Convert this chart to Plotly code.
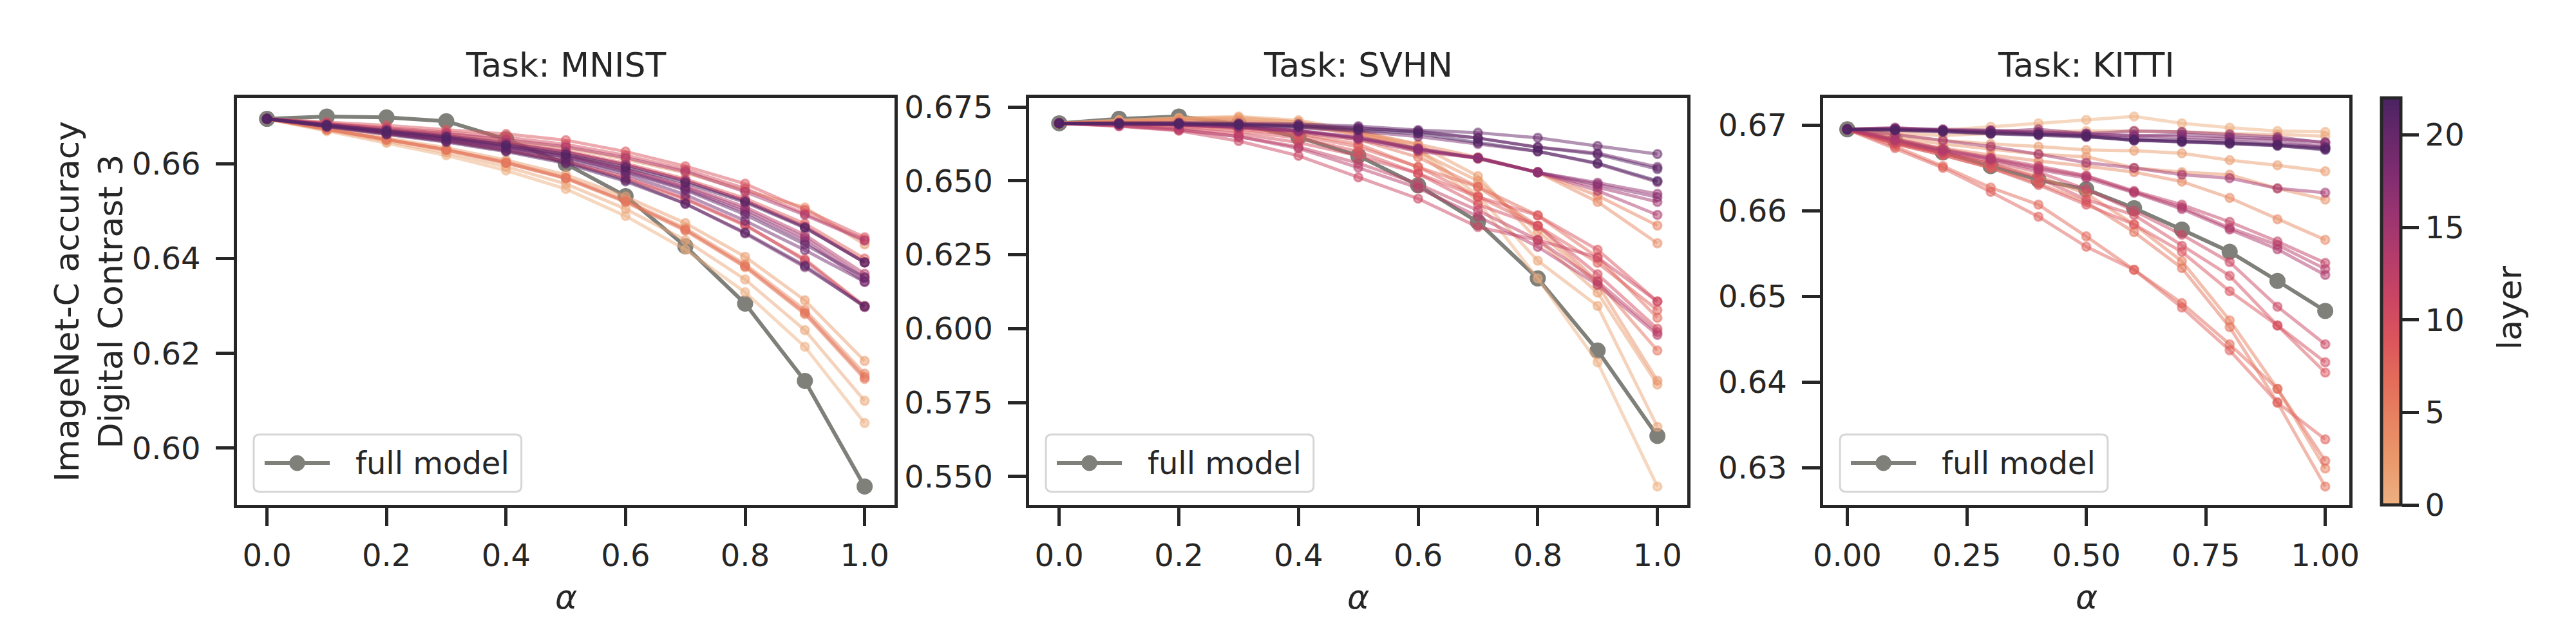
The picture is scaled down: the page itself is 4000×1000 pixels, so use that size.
import plotly.graph_objs as go
from plotly.colors import sample_colorscale, unlabel_rgb

alphas = [0.0, 0.1, 0.2, 0.3, 0.4, 0.5, 0.6, 0.7, 0.8, 0.9, 1.0]
layers = list(range(23))
tasks = ["MNIST", "SVHN", "KITTI"]

# accuracy of the full model per alpha
mnist_full = [0.6695, 0.6700, 0.6698, 0.6690, 0.6652, 0.6600, 0.6532, 0.6426, 0.6305, 0.6142, 0.5919]
svhn_full = [0.6695, 0.6710, 0.6718, 0.6693, 0.6648, 0.6585, 0.6485, 0.6361, 0.6170, 0.5926, 0.5637]
kitti_full = [0.6695, 0.6682, 0.6668, 0.6652, 0.6636, 0.6625, 0.6603, 0.6578, 0.6552, 0.6518, 0.6483]

# one row per layer (0..22), one value per alpha
mnist_layer_acc = [
    [0.6695, 0.6669, 0.6644, 0.6618, 0.6586, 0.6547, 0.6490, 0.6419, 0.6329, 0.6214, 0.6053],
    [0.6695, 0.6671, 0.6647, 0.6624, 0.6594, 0.6558, 0.6505, 0.6439, 0.6356, 0.6249, 0.6100],
    [0.6695, 0.6675, 0.6654, 0.6634, 0.6608, 0.6577, 0.6531, 0.6475, 0.6404, 0.6312, 0.6184],
    [0.6695, 0.6684, 0.6674, 0.6663, 0.6650, 0.6634, 0.6610, 0.6581, 0.6544, 0.6508, 0.6430],
    [0.6695, 0.6673, 0.6652, 0.6630, 0.6604, 0.6571, 0.6523, 0.6464, 0.6388, 0.6292, 0.6157],
    [0.6695, 0.6673, 0.6651, 0.6629, 0.6602, 0.6569, 0.6519, 0.6459, 0.6382, 0.6283, 0.6146],
    [0.6695, 0.6673, 0.6651, 0.6630, 0.6602, 0.6570, 0.6521, 0.6461, 0.6384, 0.6286, 0.6150],
    [0.6695, 0.6679, 0.6663, 0.6648, 0.6628, 0.6604, 0.6569, 0.6525, 0.6470, 0.6399, 0.6300],
    [0.6695, 0.6683, 0.6671, 0.6660, 0.6645, 0.6627, 0.6601, 0.6568, 0.6527, 0.6474, 0.6400],
    [0.6695, 0.6688, 0.6681, 0.6672, 0.6663, 0.6650, 0.6626, 0.6595, 0.6558, 0.6503, 0.6445],
    [0.6695, 0.6686, 0.6677, 0.6667, 0.6656, 0.6641, 0.6618, 0.6588, 0.6548, 0.6495, 0.6440],
    [0.6695, 0.6680, 0.6665, 0.6650, 0.6630, 0.6606, 0.6572, 0.6527, 0.6472, 0.6396, 0.6298],
    [0.6695, 0.6682, 0.6670, 0.6658, 0.6643, 0.6625, 0.6598, 0.6565, 0.6522, 0.6468, 0.6392],
    [0.6695, 0.6682, 0.6669, 0.6656, 0.6639, 0.6620, 0.6590, 0.6554, 0.6509, 0.6450, 0.6368],
    [0.6695, 0.6685, 0.6674, 0.6664, 0.6651, 0.6636, 0.6613, 0.6584, 0.6541, 0.6492, 0.6438],
    [0.6695, 0.6682, 0.6668, 0.6655, 0.6638, 0.6618, 0.6588, 0.6551, 0.6504, 0.6444, 0.6360],
    [0.6695, 0.6683, 0.6671, 0.6659, 0.6644, 0.6625, 0.6598, 0.6564, 0.6522, 0.6466, 0.6392],
    [0.6695, 0.6681, 0.6668, 0.6654, 0.6636, 0.6616, 0.6585, 0.6547, 0.6499, 0.6437, 0.6351],
    [0.6695, 0.6679, 0.6663, 0.6648, 0.6628, 0.6604, 0.6566, 0.6516, 0.6453, 0.6382, 0.6300],
    [0.6695, 0.6680, 0.6666, 0.6651, 0.6633, 0.6610, 0.6578, 0.6535, 0.6480, 0.6418, 0.6351],
    [0.6695, 0.6681, 0.6667, 0.6653, 0.6635, 0.6614, 0.6583, 0.6545, 0.6493, 0.6430, 0.6360],
    [0.6695, 0.6678, 0.6662, 0.6646, 0.6626, 0.6601, 0.6563, 0.6516, 0.6455, 0.6385, 0.6298],
    [0.6695, 0.6682, 0.6670, 0.6657, 0.6640, 0.6620, 0.6593, 0.6560, 0.6519, 0.6465, 0.6392],
]

svhn_layer_acc = [
    [0.6695, 0.6705, 0.6712, 0.6715, 0.6700, 0.6660, 0.6600, 0.6430, 0.6170, 0.5886, 0.5466],
    [0.6695, 0.6705, 0.6713, 0.6718, 0.6705, 0.6670, 0.6610, 0.6450, 0.6230, 0.6077, 0.5668],
    [0.6695, 0.6703, 0.6710, 0.6712, 0.6700, 0.6665, 0.6623, 0.6516, 0.6300, 0.6122, 0.5811],
    [0.6695, 0.6702, 0.6708, 0.6705, 0.6692, 0.6655, 0.6600, 0.6500, 0.6330, 0.6150, 0.5824],
    [0.6695, 0.6700, 0.6705, 0.6702, 0.6690, 0.6668, 0.6623, 0.6580, 0.6529, 0.6429, 0.6289],
    [0.6695, 0.6698, 0.6700, 0.6695, 0.6685, 0.6660, 0.6610, 0.6575, 0.6529, 0.6450, 0.6349],
    [0.6695, 0.6697, 0.6695, 0.6685, 0.6670, 0.6640, 0.6580, 0.6480, 0.6348, 0.6160, 0.5926],
    [0.6695, 0.6696, 0.6693, 0.6680, 0.6660, 0.6625, 0.6547, 0.6480, 0.6383, 0.6241, 0.6037],
    [0.6695, 0.6694, 0.6690, 0.6675, 0.6655, 0.6615, 0.6547, 0.6446, 0.6348, 0.6223, 0.6063],
    [0.6695, 0.6692, 0.6685, 0.6668, 0.6645, 0.6600, 0.6525, 0.6446, 0.6383, 0.6267, 0.6092],
    [0.6695, 0.6690, 0.6680, 0.6660, 0.6630, 0.6585, 0.6525, 0.6420, 0.6348, 0.6184, 0.6000],
    [0.6695, 0.6685, 0.6670, 0.6635, 0.6585, 0.6512, 0.6440, 0.6344, 0.6300, 0.6241, 0.6092],
    [0.6695, 0.6688, 0.6675, 0.6650, 0.6615, 0.6560, 0.6490, 0.6400, 0.6300, 0.6160, 0.5988],
    [0.6695, 0.6686, 0.6672, 0.6650, 0.6610, 0.6545, 0.6476, 0.6380, 0.6277, 0.6148, 0.5979],
    [0.6695, 0.6692, 0.6690, 0.6680, 0.6665, 0.6640, 0.6600, 0.6578, 0.6529, 0.6467, 0.6385],
    [0.6695, 0.6693, 0.6690, 0.6682, 0.6668, 0.6645, 0.6605, 0.6578, 0.6529, 0.6480, 0.6429],
    [0.6695, 0.6693, 0.6691, 0.6684, 0.6670, 0.6648, 0.6610, 0.6578, 0.6529, 0.6494, 0.6456],
    [0.6695, 0.6692, 0.6690, 0.6683, 0.6670, 0.6645, 0.6608, 0.6576, 0.6529, 0.6488, 0.6445],
    [0.6695, 0.6694, 0.6693, 0.6688, 0.6680, 0.6668, 0.6650, 0.6625, 0.6600, 0.6558, 0.6496],
    [0.6695, 0.6695, 0.6694, 0.6692, 0.6688, 0.6680, 0.6665, 0.6645, 0.6614, 0.6594, 0.6547],
    [0.6695, 0.6696, 0.6697, 0.6695, 0.6692, 0.6685, 0.6672, 0.6663, 0.6646, 0.6618, 0.6591],
    [0.6695, 0.6694, 0.6694, 0.6691, 0.6686, 0.6678, 0.6668, 0.6645, 0.6614, 0.6590, 0.6540],
    [0.6695, 0.6694, 0.6693, 0.6689, 0.6683, 0.6672, 0.6660, 0.6630, 0.6600, 0.6560, 0.6500],
]

kitti_layer_acc = [
    [0.6695, 0.6692, 0.6694, 0.6698, 0.6702, 0.6706, 0.6710, 0.6702, 0.6697, 0.6693, 0.6692],
    [0.6695, 0.6690, 0.6688, 0.6690, 0.6692, 0.6693, 0.6693, 0.6692, 0.6690, 0.6689, 0.6687],
    [0.6695, 0.6688, 0.6682, 0.6678, 0.6675, 0.6671, 0.6670, 0.6667, 0.6659, 0.6653, 0.6646],
    [0.6695, 0.6685, 0.6678, 0.6672, 0.6666, 0.6663, 0.6650, 0.6645, 0.6642, 0.6626, 0.6613],
    [0.6695, 0.6683, 0.6673, 0.6665, 0.6658, 0.6652, 0.6645, 0.6634, 0.6615, 0.6590, 0.6566],
    [0.6695, 0.6680, 0.6668, 0.6655, 0.6640, 0.6620, 0.6584, 0.6541, 0.6472, 0.6392, 0.6299],
    [0.6695, 0.6678, 0.6665, 0.6650, 0.6632, 0.6610, 0.6575, 0.6533, 0.6464, 0.6376, 0.6278],
    [0.6695, 0.6675, 0.6652, 0.6627, 0.6607, 0.6570, 0.6531, 0.6492, 0.6444, 0.6392, 0.6308],
    [0.6695, 0.6673, 0.6650, 0.6622, 0.6593, 0.6558, 0.6531, 0.6487, 0.6437, 0.6376, 0.6333],
    [0.6695, 0.6678, 0.6665, 0.6650, 0.6630, 0.6607, 0.6584, 0.6552, 0.6506, 0.6466, 0.6411],
    [0.6695, 0.6679, 0.6667, 0.6655, 0.6638, 0.6613, 0.6595, 0.6559, 0.6524, 0.6466, 0.6423],
    [0.6695, 0.6680, 0.6668, 0.6658, 0.6645, 0.6625, 0.6600, 0.6572, 0.6540, 0.6488, 0.6444],
    [0.6695, 0.6684, 0.6672, 0.6662, 0.6652, 0.6641, 0.6623, 0.6607, 0.6587, 0.6564, 0.6539],
    [0.6695, 0.6683, 0.6671, 0.6661, 0.6650, 0.6640, 0.6622, 0.6604, 0.6580, 0.6560, 0.6532],
    [0.6695, 0.6682, 0.6670, 0.6660, 0.6648, 0.6638, 0.6621, 0.6602, 0.6578, 0.6555, 0.6525],
    [0.6695, 0.6689, 0.6682, 0.6675, 0.6666, 0.6656, 0.6650, 0.6642, 0.6638, 0.6626, 0.6621],
    [0.6695, 0.6697, 0.6694, 0.6692, 0.6695, 0.6690, 0.6693, 0.6692, 0.6689, 0.6686, 0.6679],
    [0.6695, 0.6696, 0.6694, 0.6693, 0.6691, 0.6689, 0.6688, 0.6686, 0.6684, 0.6682, 0.6675],
    [0.6695, 0.6696, 0.6695, 0.6694, 0.6692, 0.6690, 0.6687, 0.6689, 0.6686, 0.6684, 0.6680],
    [0.6695, 0.6695, 0.6694, 0.6693, 0.6690, 0.6688, 0.6684, 0.6683, 0.6681, 0.6678, 0.6674],
    [0.6695, 0.6695, 0.6693, 0.6691, 0.6689, 0.6687, 0.6682, 0.6681, 0.6679, 0.6676, 0.6672],
    [0.6695, 0.6694, 0.6692, 0.6690, 0.6688, 0.6686, 0.6683, 0.6680, 0.6679, 0.6677, 0.6673],
    [0.6695, 0.6694, 0.6693, 0.6690, 0.6689, 0.6687, 0.6682, 0.6681, 0.6678, 0.6676, 0.6671],
]

x_tickvals = [[0, 0.2, 0.4, 0.6, 0.8, 1.0], [0, 0.2, 0.4, 0.6, 0.8, 1.0], [0, 0.25, 0.5, 0.75, 1.0]]
x_ticktext = [["0.0", "0.2", "0.4", "0.6", "0.8", "1.0"],
              ["0.0", "0.2", "0.4", "0.6", "0.8", "1.0"],
              ["0.00", "0.25", "0.50", "0.75", "1.00"]]
y_tickvals = [[0.60, 0.62, 0.64, 0.66],
              [0.550, 0.575, 0.600, 0.625, 0.650, 0.675],
              [0.63, 0.64, 0.65, 0.66, 0.67]]
y_ticktext = [["0.60", "0.62", "0.64", "0.66"],
              ["0.550", "0.575", "0.600", "0.625", "0.650", "0.675"],
              ["0.63", "0.64", "0.65", "0.66", "0.67"]]
cbar_ticks = [0, 5, 10, 15, 20]

# seaborn "flare"-like colormap
flare = [
    [0.0, "rgb(237,176,129)"], [0.1, "rgb(234,155,110)"], [0.2, "rgb(232,133,98)"],
    [0.3, "rgb(227,110,90)"], [0.4, "rgb(220,86,92)"], [0.5, "rgb(204,70,99)"],
    [0.6, "rgb(182,61,106)"], [0.7, "rgb(157,53,112)"], [0.8, "rgb(131,46,113)"],
    [0.9, "rgb(104,40,106)"], [1.0, "rgb(75,35,98)"],
]

INK = "#262626"
GRAY = "#80807b"
FONT = "DejaVu Sans"
W, H = 4000, 1000

panel_x = [(347, 1376), (1587, 2617), (2830, 3653)]
panel_top, panel_bottom = 132, 773
y_dom = [1 - panel_bottom / H, 1 - panel_top / H]


def rgba(c, a):
    r, g, b = unlabel_rgb(c)
    return f"rgba({int(r)},{int(g)},{int(b)},{a})"


def px(x):
    return x / W


def py(y):
    return 1 - y / H


def rounded_box(left, top, right, bottom, r=9):
    # path in paper coordinates, rounded corners
    l, t, rr, b = px(left), py(top), px(right), py(bottom)
    dx, dy = r / W, r / H
    return (f"M{l + dx},{t} L{rr - dx},{t} Q{rr},{t} {rr},{t - dy} "
            f"L{rr},{b + dy} Q{rr},{b} {rr - dx},{b} "
            f"L{l + dx},{b} Q{l},{b} {l},{b + dy} "
            f"L{l},{t - dy} Q{l},{t} {l + dx},{t} Z")


layer_colors = sample_colorscale(flare, [l / max(layers) for l in layers])

fig = go.Figure()
full_sets = [mnist_full, svhn_full, kitti_full]
layer_sets = [mnist_layer_acc, svhn_layer_acc, kitti_layer_acc]

for i in range(3):
    xa = "x" if i == 0 else f"x{i + 1}"
    ya = "y" if i == 0 else f"y{i + 1}"
    fig.add_trace(go.Scatter(
        x=alphas, y=full_sets[i], xaxis=xa, yaxis=ya,
        mode="lines+markers", name="full model", showlegend=False,
        line=dict(color=GRAY, width=6),
        marker=dict(color=GRAY, size=25),
    ))
    for l in layers:
        c = layer_colors[l]
        fig.add_trace(go.Scatter(
            x=alphas, y=layer_sets[i][l], xaxis=xa, yaxis=ya,
            mode="lines+markers", name=f"layer {l}", showlegend=False,
            line=dict(color=rgba(c, 0.5), width=5),
            marker=dict(color=rgba(c, 0.5), size=13,
                        line=dict(color=rgba(c, 0.5), width=3)),
        ))

# dummy trace carrying the colorbar
fig.add_trace(go.Scatter(
    x=[None], y=[None], xaxis="x3", yaxis="y3", mode="markers", showlegend=False,
    marker=dict(
        color=[0], cmin=0, cmax=22, colorscale=flare, showscale=True,
        colorbar=dict(
            x=px(3704), xanchor="left", xpad=0, y=sum(y_dom) / 2, yanchor="middle", ypad=0,
            len=y_dom[1] - y_dom[0], lenmode="fraction", thickness=30,
            outlinewidth=5, outlinecolor=INK,
            tickvals=cbar_ticks, ticks="outside", ticklen=26, tickwidth=5, tickcolor=INK,
            tickfont=dict(family=FONT, size=48, color=INK),
        ),
    ),
))

axis_common = dict(
    showgrid=False, zeroline=False, showline=True, mirror=True,
    linecolor=INK, linewidth=5, ticks="outside", ticklen=28, tickwidth=5,
    tickcolor=INK, tickfont=dict(family=FONT, size=48, color=INK),
)


def label(text, x, y, size=52, angle=0):
    return dict(text=text, x=x, y=y, xref="paper", yref="paper", xanchor="center",
                yanchor="middle", showarrow=False, textangle=angle,
                font=dict(family=FONT, size=size, color=INK))


annotations = []
shapes = []
for i in range(3):
    x0, x1 = panel_x[i]
    sfx = "" if i == 0 else str(i + 1)
    vals = [v for row in layer_sets[i] for v in row] + full_sets[i]
    lo, hi = min(vals), max(vals)
    pad = 0.05 * (hi - lo)
    fig.update_layout(**{
        f"xaxis{sfx}": dict(axis_common, domain=[px(x0), px(x1)], anchor=f"y{sfx}",
                            range=[-0.05, 1.05], tickvals=x_tickvals[i],
                            ticktext=x_ticktext[i], ticklabelstandoff=4),
        f"yaxis{sfx}": dict(axis_common, domain=y_dom, anchor=f"x{sfx}",
                            range=[lo - pad, hi + pad], tickvals=y_tickvals[i],
                            ticktext=y_ticktext[i], ticklabelstandoff=14),
    })
    cx = px((x0 + x1) / 2)
    annotations.append(label(f"Task: {tasks[i]}", cx, py(80)))
    annotations.append(label("<i>α</i>", cx, py(918)))

    # legend box for the full model
    lx = x0 + 26
    shapes.append(dict(type="path", xref="paper", yref="paper", layer="above",
                       path=rounded_box(lx, 662, lx + 419, 752),
                       fillcolor="rgba(255,255,255,0.8)", line=dict(color="#d6d6d6", width=3)))
    shapes.append(dict(type="line", xref="paper", yref="paper", layer="above",
                       x0=px(lx + 17), x1=px(lx + 119), y0=py(707), y1=py(707),
                       line=dict(color=GRAY, width=6)))
    shapes.append(dict(type="circle", xref="paper", yref="paper", layer="above",
                       x0=px(lx + 56), x1=px(lx + 80), y0=py(719), y1=py(695),
                       fillcolor=GRAY, line=dict(color=GRAY, width=1)))
    annotations.append(dict(text="full model", x=px(lx + 157), y=py(707), xref="paper", yref="paper",
                            xanchor="left", yanchor="middle", showarrow=False,
                            font=dict(family=FONT, size=48, color=INK)))

annotations.append(label("ImageNet-C accuracy<br>Digital Contrast 3", px(115), sum(y_dom) / 2, angle=-90))
annotations.append(label("layer", px(3904), py(462), angle=-90))

fig.update_layout(
    width=W, height=H, autosize=False,
    margin=dict(l=0, r=0, t=0, b=0),
    paper_bgcolor="white", plot_bgcolor="white",
    font=dict(family=FONT, color=INK),
    annotations=annotations, shapes=shapes,
    showlegend=False,
)

fig.write_html("out.html")
